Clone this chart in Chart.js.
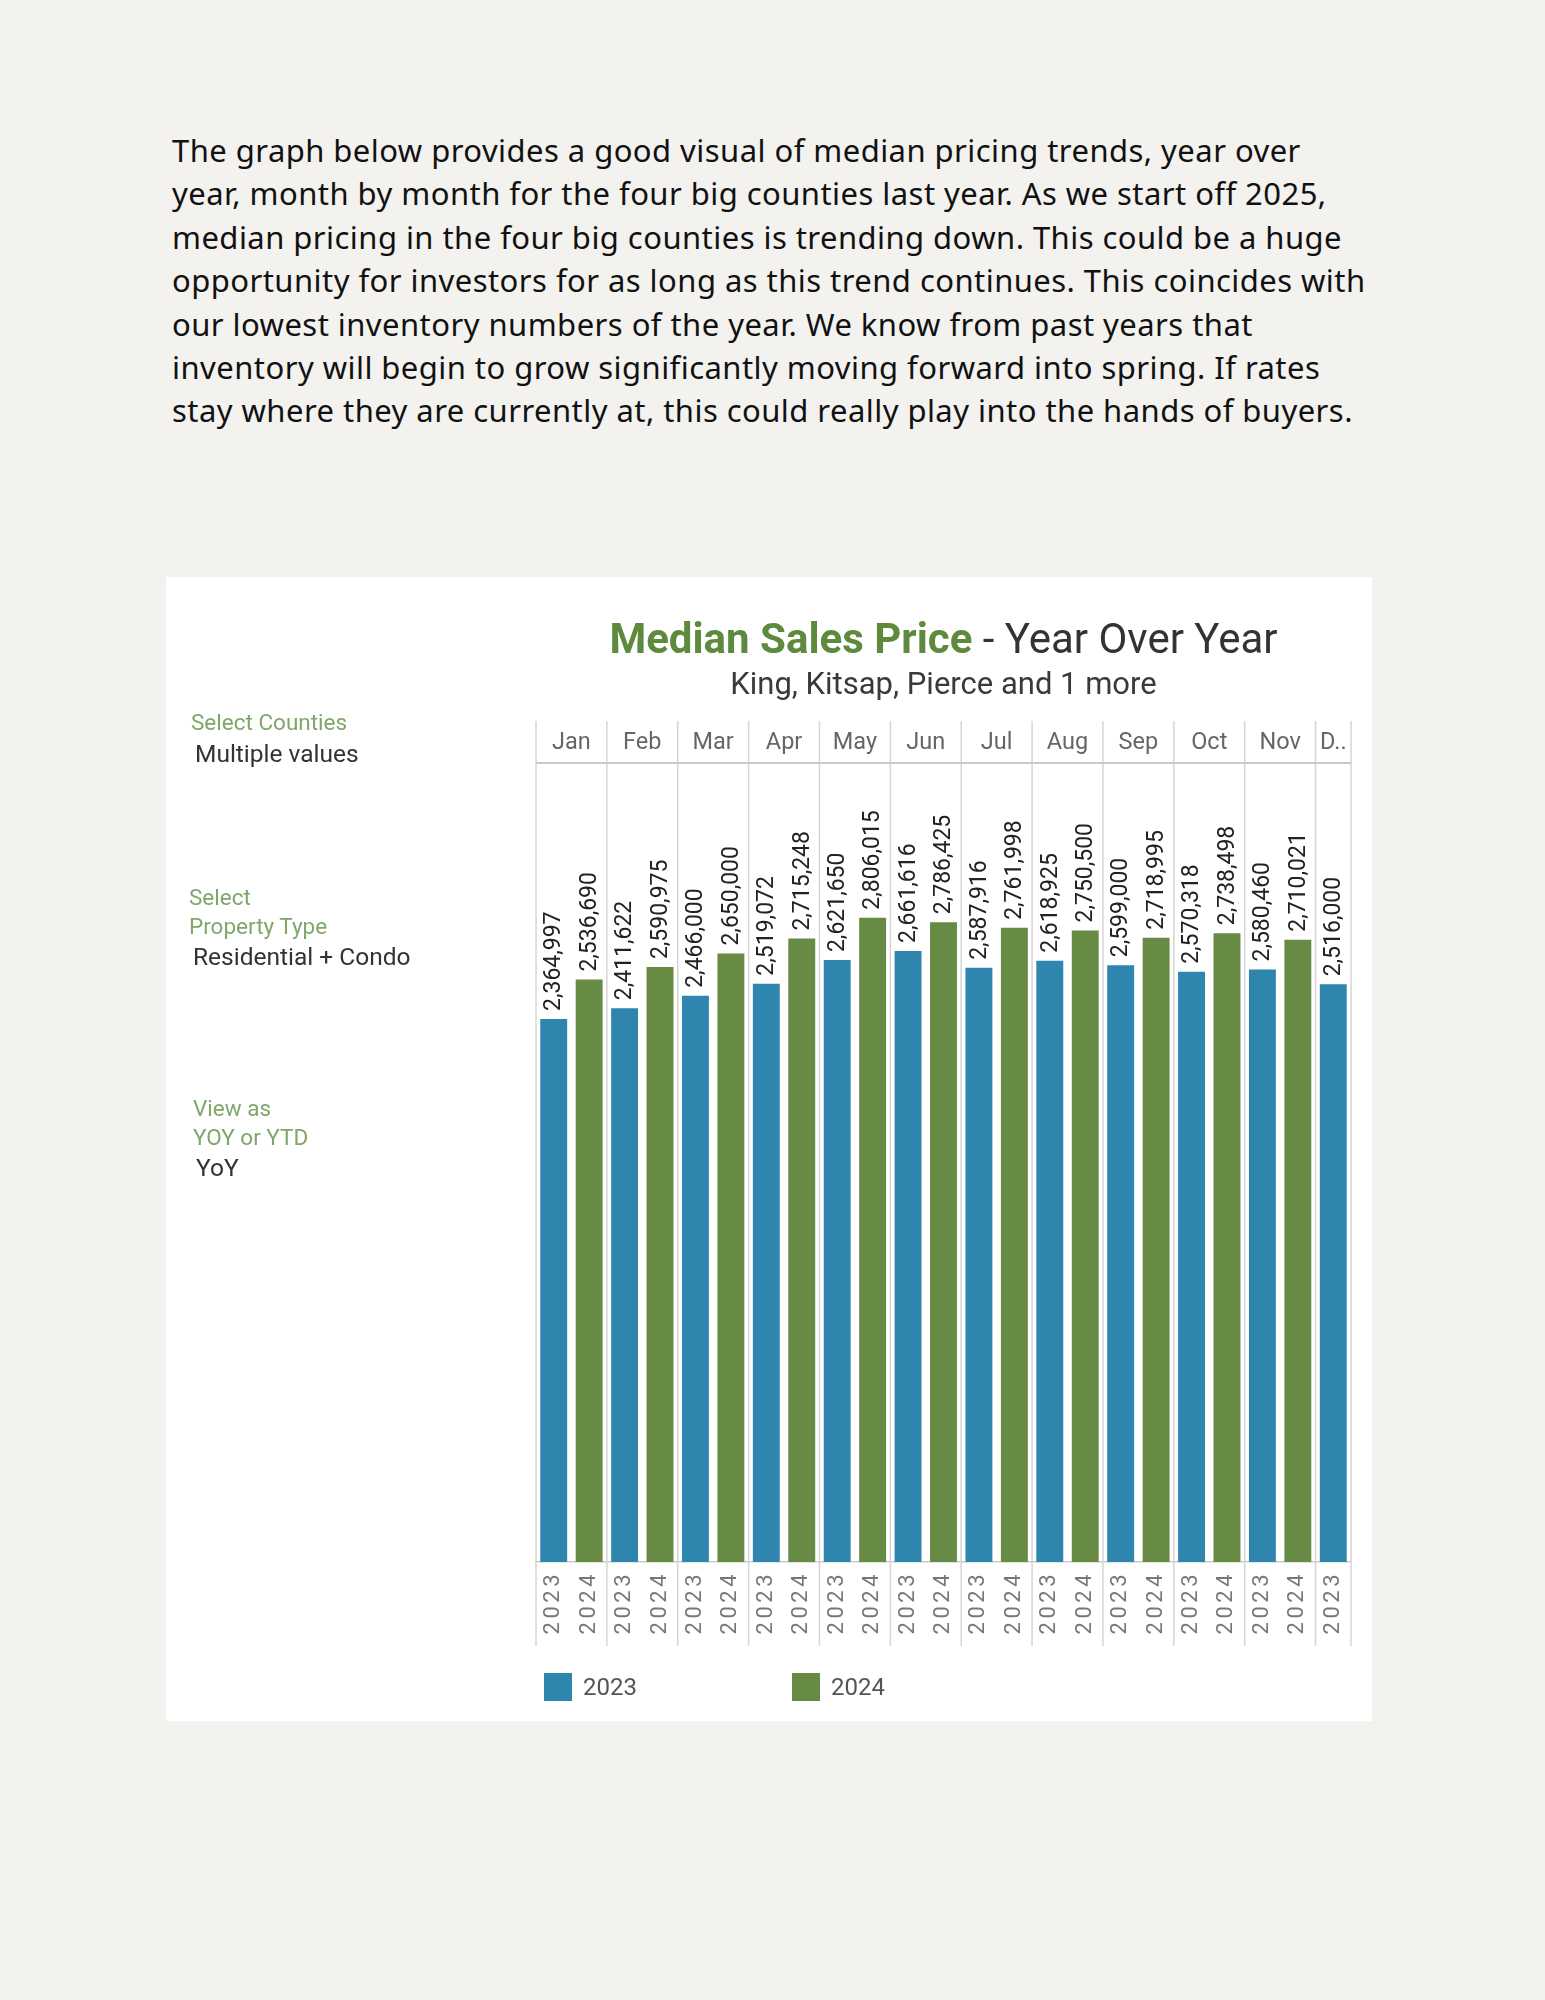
<!DOCTYPE html>
<html>
<head>
<meta charset="utf-8">
<script src="https://cdn.jsdelivr.net/npm/chart.js@4.4.1/dist/chart.umd.min.js"></script>
<style>
  html, body { margin: 0; padding: 0; }
  body { width: 1545px; height: 2000px; background: #f3f2ef; position: relative; font-family: Roboto, sans-serif; }
  .intro { position: absolute; left: 172px; top: 129px; font-family: "Noto Sans", sans-serif; font-size: 31px; letter-spacing: 0.45px; line-height: 43.4px; color: #111; white-space: nowrap; }
  .panel { position: absolute; left: 166px; top: 577px; width: 1206px; height: 1144px; background: #fff; }
  .box { position: absolute; left: 0; top: 0; width: 1206px; height: 1144px; }
  .t { position: absolute; white-space: nowrap; line-height: 1; }
  .lbl { color: #7fa76a; font-size: 22.5px; }
  .val { color: #333; font-size: 24.5px; }
  .title { left: 370px; width: 815px; top: 41px; text-align: center; font-size: 42px; color: #333; }
  .title b { color: #5d8a3c; }
  .sub { left: 370px; width: 815px; top: 91px; text-align: center; font-size: 31px; color: #3a3a3a; }
  .legend { position: absolute; top: 1110px; display: flex; align-items: center; font-size: 24px; color: #555; }
  .legend span.sw { width: 28px; height: 28px; display: inline-block; margin-right: 11px; }
</style>
</head>
<body>
<div class="intro">
The graph below provides a good visual of median pricing trends, year over<br>
year, month by month for the four big counties last year. As we start off 2025,<br>
median pricing in the four big counties is trending down. This could be a huge<br>
opportunity for investors for as long as this trend continues. This coincides with<br>
our lowest inventory numbers of the year. We know from past years that<br>
inventory will begin to grow significantly moving forward into spring. If rates<br>
stay where they are currently at, this could really play into the hands of buyers.
</div>

<div class="panel">
  <div class="box"><canvas id="yoyChart"></canvas></div>
  <div class="t title"><b>Median Sales Price</b> - Year Over Year</div>
  <div class="t sub">King, Kitsap, Pierce and 1 more</div>

  <div class="t lbl" style="left:25px; top:134px;">Select Counties</div>
  <div class="t val" style="left:29px; top:165px;">Multiple values</div>
  <div class="t lbl" style="left:23px; top:309px;">Select</div>
  <div class="t lbl" style="left:23px; top:338px;">Property Type</div>
  <div class="t val" style="left:27px; top:368px;">Residential + Condo</div>
  <div class="t lbl" style="left:27px; top:520px;">View as</div>
  <div class="t lbl" style="left:27px; top:549px;">YOY or YTD</div>
  <div class="t val" style="left:30px; top:579px;">YoY</div>

  <div class="legend" id="legend"></div>
</div>

<script>
const months = ["Jan", "Feb", "Mar", "Apr", "May", "Jun", "Jul", "Aug", "Sep", "Oct", "Nov", "Dec"];
const years = ["2023", "2024"];
const values2023 = [2364997, 2411622, 2466000, 2519072, 2621650, 2661616, 2587916, 2618925, 2599000, 2570318, 2580460, 2516000];
const values2024 = [2536690, 2590975, 2650000, 2715248, 2806015, 2786425, 2761998, 2750500, 2718995, 2738498, 2710021, null];
const colors = ["#2e86ae", "#678a45"];

// one category per bar: month x year (Dec has only 2023)
const labels = [];
const data2023 = [];
const data2024 = [];
months.forEach((m, i) => {
  labels.push(years[0]); data2023.push(values2023[i]); data2024.push(null);
  if (values2024[i] != null) {
    labels.push(years[1]); data2023.push(null); data2024.push(values2024[i]);
  }
});

// spaced out year labels on the x axis
const tickSpacing = {
  id: 'tickSpacing',
  beforeDraw(chart) { chart.ctx.letterSpacing = '3.5px'; },
  beforeDatasetsDraw(chart) { chart.ctx.letterSpacing = '0px'; }
};

const monthHeader = {
  id: 'monthHeader',
  afterDraw(chart) {
    const {ctx, chartArea, scales: {x}} = chart;
    const slot = x.width / labels.length;
    const top = chartArea.top - 42;
    const bottom = chartArea.bottom + 84;
    ctx.save();
    ctx.strokeStyle = '#d5d5d5';
    ctx.lineWidth = 1.5;
    ctx.font = '23.5px Roboto';
    ctx.fillStyle = '#666';
    ctx.textAlign = 'center';
    ctx.textBaseline = 'middle';
    let idx = 0;
    let right = 0;
    months.forEach((m, i) => {
      const n = values2024[i] == null ? 1 : 2;
      const left = x.getPixelForValue(idx) - slot / 2;
      right = left + n * slot;
      ctx.beginPath();
      ctx.moveTo(left, top);
      ctx.lineTo(left, bottom);
      ctx.stroke();
      let txt = m;
      if (ctx.measureText(txt).width > right - left - 6) txt = m[0] + '..';
      ctx.fillText(txt, (left + right) / 2, top + 22);
      idx += n;
    });
    ctx.beginPath();
    ctx.moveTo(right, top);
    ctx.lineTo(right, bottom);
    ctx.stroke();
    ctx.strokeStyle = '#cacaca';
    ctx.lineWidth = 2;
    ctx.beginPath();
    ctx.moveTo(chartArea.left, chartArea.top);
    ctx.lineTo(chartArea.right, chartArea.top);
    ctx.stroke();
    ctx.restore();
  }
};

const barValues = {
  id: 'barValues',
  afterDatasetsDraw(chart) {
    const {ctx} = chart;
    ctx.save();
    ctx.font = '23px Roboto';
    ctx.fillStyle = '#222';
    ctx.textAlign = 'left';
    ctx.textBaseline = 'middle';
    chart.data.datasets.forEach((ds, d) => {
      chart.getDatasetMeta(d).data.forEach((bar, i) => {
        const v = ds.data[i];
        if (v == null) return;
        ctx.save();
        ctx.translate(bar.x + 1, bar.y - 8);
        ctx.rotate(-Math.PI / 2);
        ctx.fillText(v.toLocaleString('en-US'), 0, 0);
        ctx.restore();
      });
    });
    ctx.restore();
  }
};

const chart = new Chart(document.getElementById('yoyChart'), {
  type: 'bar',
  data: {
    labels: labels,
    datasets: [{
      label: years[0],
      data: data2023,
      backgroundColor: colors[0],
      grouped: false,
      categoryPercentage: 1,
      barPercentage: 0.76
    }, {
      label: years[1],
      data: data2024,
      backgroundColor: colors[1],
      grouped: false,
      categoryPercentage: 1,
      barPercentage: 0.76
    }]
  },
  options: {
    responsive: true,
    maintainAspectRatio: false,
    animation: false,
    layout: {
      padding: {left: 370, right: 21, top: 186, bottom: 75}
    },
    scales: {
      x: {
        grid: {display: false},
        border: {display: true, color: '#cccccc', width: 1.5},
        ticks: {
          minRotation: 90,
          maxRotation: 90,
          autoSkip: false,
          padding: 1,
          color: '#777',
          font: {family: 'Roboto', size: 22}
        },
        afterFit(scale) { scale.height = 84; }
      },
      y: {
        display: false,
        min: 0,
        max: 3480000
      }
    },
    plugins: {
      legend: {display: false},
      tooltip: {enabled: false}
    }
  },
  plugins: [tickSpacing, monthHeader, barValues]
});

// legend built from the chart datasets
const legendEl = document.getElementById('legend');
chart.data.datasets.forEach((ds, i) => {
  const item = document.createElement('div');
  item.style.position = 'absolute';
  item.style.left = (i === 0 ? 378 : 626) + 'px';
  item.style.display = 'flex';
  item.style.alignItems = 'center';
  item.innerHTML = '<span class="sw" style="background:' + ds.backgroundColor + '"></span>' + ds.label;
  legendEl.appendChild(item);
});
</script>
</body>
</html>
